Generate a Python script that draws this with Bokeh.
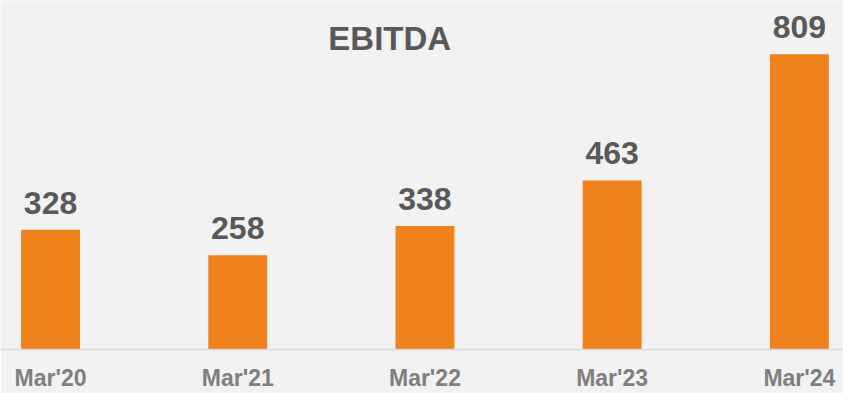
from bokeh.plotting import figure
from bokeh.models import ColumnDataSource, Range1d, FixedTicker, Label
from bokeh.embed import file_html
from bokeh.resources import INLINE
from bokeh.core.properties import value

categories = ["Mar'20", "Mar'21", "Mar'22", "Mar'23", "Mar'24"]
ebitda = [328, 258, 338, 463, 809]
title_text = "EBITDA"

idx = list(range(len(categories)))
labels = [str(v) for v in ebitda]
src = ColumnDataSource(dict(x=idx, top=ebitda, label=labels))

p = figure(width=843, height=393, output_backend="svg", toolbar_location=None,
           x_range=Range1d(-0.2674, 4.2358), y_range=Range1d(0, 956),
           min_border_left=0, min_border_right=0, min_border_top=0, min_border_bottom=43)
p.background_fill_color = "#f2f2f2"
p.border_fill_color = "#f2f2f2"
p.outline_line_color = None
p.grid.visible = False
p.yaxis.visible = False

p.vbar(x="x", top="top", width=0.3146, bottom=0, source=src,
       fill_color="#f0821e", line_color=None)
p.text(x="x", y="top", text="label", source=src, text_align="center",
       text_baseline="alphabetic", y_offset=-27,
       text_font=value("Liberation Sans"), text_font_style="bold",
       text_font_size="32px", text_color="#595959")

xa = p.xaxis[0]
xa.ticker = FixedTicker(ticks=idx)
xa.major_label_overrides = {i: c for i, c in zip(idx, categories)}
xa.major_tick_line_color = None
xa.minor_tick_line_color = None
xa.major_tick_out = 0
xa.major_tick_in = 0
xa.axis_line_color = "#d9d9d9"
xa.axis_line_width = 1.5
xa.major_label_standoff = 15
xa.major_label_text_font = "Liberation Sans"
xa.major_label_text_font_style = "bold"
xa.major_label_text_font_size = "23px"
xa.major_label_text_color = "#7f7f7f"

p.add_layout(Label(x=1.812, y=851, text=title_text, text_align="center",
                   text_baseline="alphabetic", text_font="Liberation Sans",
                   text_font_style="bold", text_font_size="33px",
                   text_color="#595959"))

html = file_html(p, INLINE)
html = html.replace("<body>", '<body style="background:#f2f2f2">', 1)
open("out.html", "w").write(html)
